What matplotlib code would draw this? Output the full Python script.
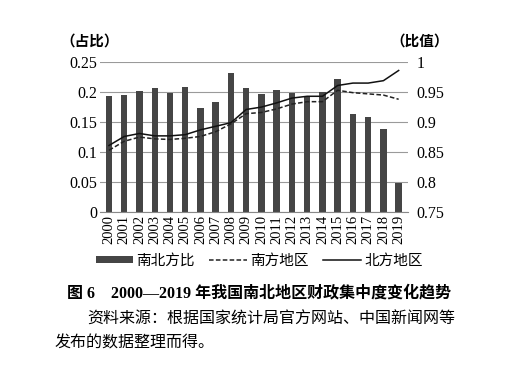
import numpy as np
import matplotlib.pyplot as plt
from matplotlib import font_manager

names = sorted(set(f.name for f in font_manager.fontManager.ttflist))
serif = 'Liberation Serif' if 'Liberation Serif' in names else 'DejaVu Serif'
plt.rcParams['font.family'] = [serif, 'Noto Sans CJK SC']

years = [str(y) for y in range(2000, 2020)]
ratio = [0.193, 0.195, 0.202, 0.207, 0.199, 0.209, 0.173, 0.183, 0.231, 0.206,
         0.196, 0.203, 0.199, 0.194, 0.200, 0.221, 0.163, 0.158, 0.139, 0.048]
south = [0.853, 0.868, 0.875, 0.872, 0.871, 0.873, 0.876, 0.884, 0.897, 0.914,
         0.916, 0.922, 0.930, 0.934, 0.934, 0.953, 0.949, 0.947, 0.945, 0.938]
north = [0.861, 0.876, 0.881, 0.877, 0.877, 0.879, 0.887, 0.893, 0.899, 0.921,
         0.925, 0.932, 0.940, 0.943, 0.943, 0.961, 0.965, 0.965, 0.969, 0.986]

cjk = ['Noto Sans CJK SC', 'DejaVu Sans']
mixed = [serif, 'Noto Sans CJK SC']

fig = plt.figure(figsize=(5.31, 3.74), dpi=100)
ax = fig.add_axes([0.188, 0.433, 0.58, 0.401])
x = np.arange(len(years))

ax.bar(x, ratio, width=0.42, color='#454545', zorder=2, label='南北方比')
ax.set_ylim(0, 0.25)
ax.set_yticks([0, 0.05, 0.1, 0.15, 0.2, 0.25])
ax.set_yticklabels(['0', '0.05', '0.1', '0.15', '0.2', '0.25'], fontsize=11.5, family=serif)
ax.set_xlim(-0.6, len(years) - 0.4)
ax.set_xticks(x)
ax.set_xticklabels(years, rotation=90, fontsize=10.5, family=serif)
ax.yaxis.grid(True, color='#9a9a9a', linewidth=0.8, zorder=0)
ax.set_axisbelow(True)
for s in ['top', 'right', 'left']:
    ax.spines[s].set_visible(False)
ax.spines['bottom'].set_color('#888888')
ax.tick_params(length=0, pad=2)

ax2 = ax.twinx()
ax2.plot(x, south, color='#222222', linestyle='--', linewidth=1.1, dashes=(3, 1.5), label='南方地区')
ax2.plot(x, north, color='#111111', linewidth=1.1, label='北方地区')
ax2.set_ylim(0.75, 1.0)
ax2.set_yticks([0.75, 0.8, 0.85, 0.9, 0.95, 1.0])
ax2.set_yticklabels(['0.75', '0.8', '0.85', '0.9', '0.95', '1'], fontsize=11.5, family=serif)
for s in ['top', 'right', 'left', 'bottom']:
    ax2.spines[s].set_visible(False)
ax2.tick_params(length=0, pad=6)

fig.text(0.113, 0.878, '（占比）', fontsize=10.5, family=cjk, fontweight='bold')
fig.text(0.735, 0.878, '（比值）', fontsize=10.5, family=cjk, fontweight='bold')

h1, l1 = ax.get_legend_handles_labels()
h2, l2 = ax2.get_legend_handles_labels()
fig.legend(h1 + h2, l1 + l2, loc='center', bbox_to_anchor=(0.488, 0.303), ncol=3,
           frameon=False, prop={'family': cjk, 'size': 10.5}, handlelength=2.6,
           handleheight=0.45, columnspacing=1.0, handletextpad=0.2)

fig.text(0.487, 0.205, '图 6    2000—2019 年我国南北地区财政集中度变化趋势', ha='center',
         fontsize=11.5, fontweight='bold', family=mixed)
fig.text(0.165, 0.135, '资料来源：根据国家统计局官方网站、中国新闻网等', fontsize=11.5,
         family=cjk)
fig.text(0.103, 0.07, '发布的数据整理而得。', fontsize=11.5, family=cjk)

fig.savefig('out.png', dpi=100)
